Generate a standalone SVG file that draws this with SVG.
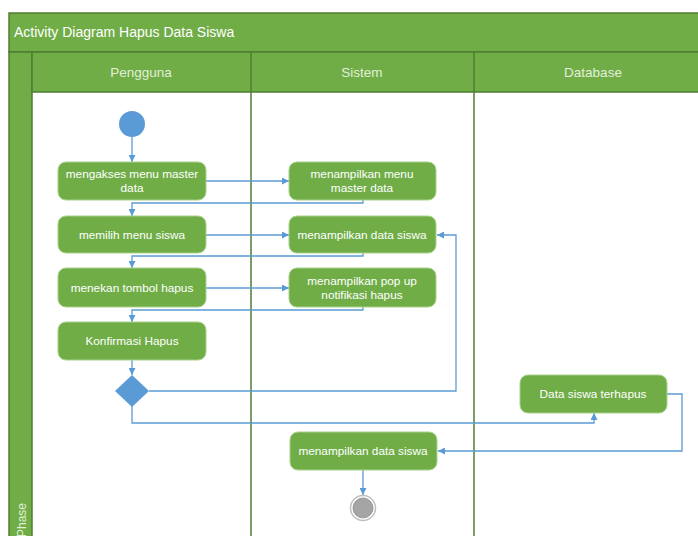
<svg xmlns="http://www.w3.org/2000/svg" width="698" height="536" viewBox="0 0 698 536">
<style>
.band{fill:#70AD47;stroke:#507E32;stroke-width:1.5}
.lane{fill:none;stroke:#507E32;stroke-width:1.5}
.act{fill:#70AD47;stroke:#A9D18E;stroke-width:1}
.t{font-family:"Liberation Sans",Arial,sans-serif;font-size:11.8px;fill:#FFFFFF;text-anchor:middle}
.h{font-family:"Liberation Sans",Arial,sans-serif;font-size:13.5px;fill:#E2F0D9;text-anchor:middle}
.c{fill:none;stroke:#5B9BD5;stroke-width:1.3}
</style>
<defs>
<marker id="ar" viewBox="0 0 10 10" refX="10" refY="5" markerWidth="7" markerHeight="7" markerUnits="userSpaceOnUse" orient="auto">
<path d="M0,0 L10,5 L0,10 z" fill="#5B9BD5"/>
</marker>
</defs>
<rect width="698" height="536" fill="#FFFFFF"/>
<g id="frame">
<rect class="band" x="9" y="13" width="710" height="39"/>
<text x="14" y="37" style="font-family:'Liberation Sans',Arial,sans-serif;font-size:14px;fill:#FFFFFF">Activity Diagram Hapus Data Siswa</text>
<rect class="band" x="9" y="52" width="23" height="500"/>
<text transform="translate(26,503) rotate(-90)" style="font-family:'Liberation Sans',Arial,sans-serif;font-size:12px;fill:#E2F0D9;text-anchor:end">Phase</text>
<rect class="band" x="32" y="52" width="687" height="40"/>
<line class="lane" x1="251" y1="52" x2="251" y2="540"/>
<line class="lane" x1="474" y1="52" x2="474" y2="540"/>
<text class="h" x="141" y="77">Pengguna</text>
<text class="h" x="362" y="77">Sistem</text>
<text class="h" x="593" y="77">Database</text>
</g>
<g id="connectors">
<path class="c" d="M132,137 V162" marker-end="url(#ar)"/>
<path class="c" d="M206,181 H289" marker-end="url(#ar)"/>
<path class="c" d="M363,200 V203 H132 V216" marker-end="url(#ar)"/>
<path class="c" d="M206,235 H289" marker-end="url(#ar)"/>
<path class="c" d="M363,253 V256 H132 V268" marker-end="url(#ar)"/>
<path class="c" d="M206,288 H289" marker-end="url(#ar)"/>
<path class="c" d="M363,307 V310 H132 V322" marker-end="url(#ar)"/>
<path class="c" d="M132,360 V375" marker-end="url(#ar)"/>
<path class="c" d="M149,391 H456 V235 H437" marker-end="url(#ar)"/>
<path class="c" d="M132,406 V423 H594 V413" marker-end="url(#ar)"/>
<path class="c" d="M667,394 H682 V451 H438" marker-end="url(#ar)"/>
<path class="c" d="M363,470 V495" marker-end="url(#ar)"/>
</g>
<g id="start"><circle cx="132" cy="124" r="13" fill="#5B9BD5"/></g>
<g id="n1"><rect class="act" x="58" y="162" width="148" height="38" rx="8"/><text class="t" x="132" y="178">mengakses menu master</text><text class="t" x="132" y="192">data</text></g>
<g id="n2"><rect class="act" x="289" y="162" width="147" height="38" rx="8"/><text class="t" x="362" y="178">menampilkan menu</text><text class="t" x="362" y="192">master data</text></g>
<g id="n3"><rect class="act" x="58" y="216" width="148" height="37" rx="8"/><text class="t" x="132" y="239">memilih menu siswa</text></g>
<g id="n4"><rect class="act" x="289" y="216" width="147" height="37" rx="8"/><text class="t" x="362" y="239">menampilkan data siswa</text></g>
<g id="n5"><rect class="act" x="58" y="268" width="148" height="39" rx="8"/><text class="t" x="132" y="292">menekan tombol hapus</text></g>
<g id="n6"><rect class="act" x="289" y="268" width="147" height="39" rx="8"/><text class="t" x="362" y="285">menampilkan pop up</text><text class="t" x="362" y="299">notifikasi hapus</text></g>
<g id="n7"><rect class="act" x="58" y="322" width="148" height="38" rx="8"/><text class="t" x="132" y="345">Konfirmasi Hapus</text></g>
<g id="decision"><path d="M132,375 L149,391 L132,407 L115,391 z" fill="#5B9BD5"/></g>
<g id="n8"><rect class="act" x="520" y="375" width="147" height="38" rx="8"/><text class="t" x="593" y="398">Data siswa terhapus</text></g>
<g id="n9"><rect class="act" x="290" y="432" width="147" height="38" rx="8"/><text class="t" x="363" y="455">menampilkan data siswa</text></g>
<g id="end"><circle cx="363" cy="508" r="12.5" fill="#FFFFFF" stroke="#BFBFBF" stroke-width="1.5"/><circle cx="363" cy="508" r="10" fill="#A5A5A5" stroke="#8C8C8C" stroke-width="0.8"/></g>
</svg>
